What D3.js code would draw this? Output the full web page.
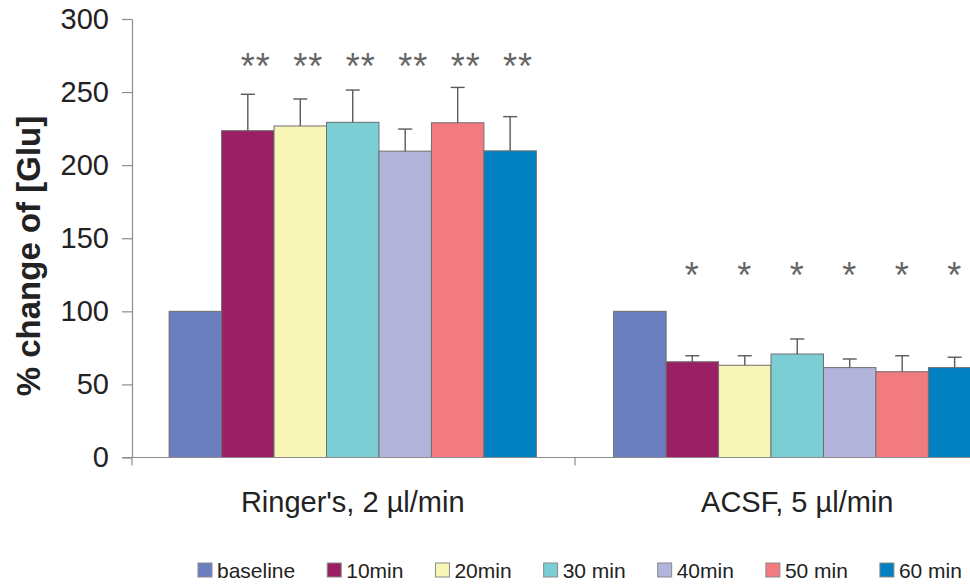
<!DOCTYPE html>
<html>
<head>
<meta charset="utf-8">
<script src="https://cdn.jsdelivr.net/npm/d3@7"></script>
<style>
  html, body { margin: 0; padding: 0; background: #fff; }
  svg { display: block; font-family: "Liberation Sans", Arial, sans-serif; }
</style>
</head>
<body>
<svg id="chart" width="970" height="584"></svg>
<script>
// ---- data ----
const categories = ["Ringer's, 2 µl/min", "ACSF, 5 µl/min"];
const series = ["baseline", "10min", "20min", "30min", "40min", "50min", "60min"];
const legendLabels = ["baseline", "10min", "20min", "30 min", "40min", "50 min", "60 min"];
const ringerValues = [100, 223.6, 226.8, 229.3, 209.6, 229.0, 209.8];
const ringerErrors = [0, 24.9, 18.5, 22.1, 15.1, 24.2, 23.4];
const acsfValues = [100, 65.5, 63.1, 70.8, 61.5, 58.7, 61.5];
const acsfErrors = [0, 4.1, 6.5, 10.3, 5.9, 10.9, 7.1];
const ringerMarks = ["", "**", "**", "**", "**", "**", "**"];
const acsfMarks = ["", "*", "*", "*", "*", "*", "*"];
const markLevels = [273, 130];
const yTicks = [0, 50, 100, 150, 200, 250, 300];
const colors = ["#6b7ec0", "#9b2063", "#f8f5b9", "#7bcfd4", "#b3b4dc", "#f27b80", "#0181c2"];

const valuesByCat = [ringerValues, acsfValues];
const errorsByCat = [ringerErrors, acsfErrors];
const marksByCat = [ringerMarks, acsfMarks];

const rows = [];
categories.forEach((c, ci) => series.forEach((s, si) => rows.push({
  cat: c, ci, s, si, v: valuesByCat[ci][si], e: errorsByCat[ci][si], m: marksByCat[ci][si]
})));

// ---- layout ----
const svg = d3.select("#chart");
const y = d3.scaleLinear().domain([0, 300]).range([457.5, 19]);
const x0 = d3.scaleBand().domain(categories).range([132, 1018])
  .paddingInner(0.1738).paddingOuter(0.0835);
const x1 = d3.scaleBand().domain(series).range([0, x0.bandwidth()]).padding(0);
const color = d3.scaleOrdinal().domain(series).range(colors);
const axisColor = "#8c8c8c";

// y axis
const yAxis = svg.append("g").attr("transform", "translate(132,0)")
  .call(d3.axisLeft(y).tickValues(yTicks).tickSize(10).tickSizeOuter(0).tickPadding(13));
yAxis.select(".domain").attr("stroke", axisColor).attr("stroke-width", 1.2);
yAxis.selectAll(".tick line").attr("stroke", axisColor).attr("stroke-width", 1.2);
yAxis.selectAll(".tick text").attr("font-size", 29).attr("fill", "#222")
  .attr("font-family", "'Liberation Sans', Arial, sans-serif");
// extension of y axis below zero
svg.append("line").attr("x1", 132).attr("x2", 132)
  .attr("y1", y(0)).attr("y2", y(0) + 8).attr("stroke", axisColor).attr("stroke-width", 1.2);

// bars
const barG = svg.append("g");
barG.selectAll("rect").data(rows).join("rect")
  .attr("x", d => x0(d.cat) + x1(d.s))
  .attr("y", d => y(d.v))
  .attr("width", x1.bandwidth())
  .attr("height", d => y(0) - y(d.v))
  .attr("fill", d => color(d.s))
  .attr("stroke", "#6f6f6f")
  .attr("stroke-width", 1);

// error bars
const errRows = rows.filter(d => d.e > 0);
const errG = svg.append("g").attr("stroke", "#5a5a5a").attr("stroke-width", 1.4);
errG.selectAll("line.v").data(errRows).join("line").attr("class", "v")
  .attr("x1", d => x0(d.cat) + x1(d.s) + x1.bandwidth() / 2)
  .attr("x2", d => x0(d.cat) + x1(d.s) + x1.bandwidth() / 2)
  .attr("y1", d => y(d.v)).attr("y2", d => y(d.v + d.e));
errG.selectAll("line.c").data(errRows).join("line").attr("class", "c")
  .attr("x1", d => x0(d.cat) + x1(d.s) + x1.bandwidth() / 2 - 7)
  .attr("x2", d => x0(d.cat) + x1(d.s) + x1.bandwidth() / 2 + 7)
  .attr("y1", d => y(d.v + d.e)).attr("y2", d => y(d.v + d.e));

// significance marks
svg.append("g").selectAll("text").data(rows.filter(d => d.m)).join("text")
  .attr("x", d => x0(d.cat) + x1(d.s) + x1.bandwidth() / 2 + (d.ci === 0 ? 8 : 0))
  .attr("y", d => y(markLevels[d.ci]) + 20.5)
  .attr("text-anchor", "middle")
  .attr("font-size", 36)
  .attr("letter-spacing", 1)
  .attr("fill", "#666")
  .text(d => d.m);

// x axis
svg.append("line").attr("x1", 122).attr("x2", 1018)
  .attr("y1", y(0)).attr("y2", y(0)).attr("stroke", axisColor).attr("stroke-width", 1.2);
const boundaries = categories.map(c => x0(c) - x0.step() * x0.paddingInner() / 2);
svg.append("g").selectAll("line").data(boundaries.slice(1)).join("line")
  .attr("x1", d => d).attr("x2", d => d)
  .attr("y1", y(0)).attr("y2", y(0) + 8)
  .attr("stroke", axisColor).attr("stroke-width", 1.2);
const xAxis = svg.append("g").attr("transform", `translate(0,${y(0)})`)
  .call(d3.axisBottom(x0).tickSize(0).tickPadding(34));
xAxis.select(".domain").remove();
xAxis.selectAll(".tick text").attr("font-size", 29).attr("fill", "#222")
  .attr("font-family", "'Liberation Sans', Arial, sans-serif");

// y label
svg.append("text")
  .attr("transform", `translate(40,${256}) rotate(-90)`)
  .attr("text-anchor", "middle")
  .attr("font-size", 33)
  .attr("font-weight", "bold")
  .attr("fill", "#222")
  .text("% change of [Glu]");

// legend
const legend = svg.append("g").attr("transform", "translate(198,570)");
let lx = 0;
legendLabels.forEach((lab, i) => {
  const g = legend.append("g").attr("transform", `translate(${lx},0)`);
  g.append("rect").attr("x", 0).attr("y", -7).attr("width", 14).attr("height", 14)
    .attr("fill", colors[i]).attr("stroke", "#8a8a8a").attr("stroke-width", 1);
  const t = g.append("text").attr("x", 19).attr("y", 7.5)
    .attr("font-size", 21).attr("fill", "#222").text(lab);
  lx += 19 + t.node().getComputedTextLength() + 32;
});
</script>
</body>
</html>
